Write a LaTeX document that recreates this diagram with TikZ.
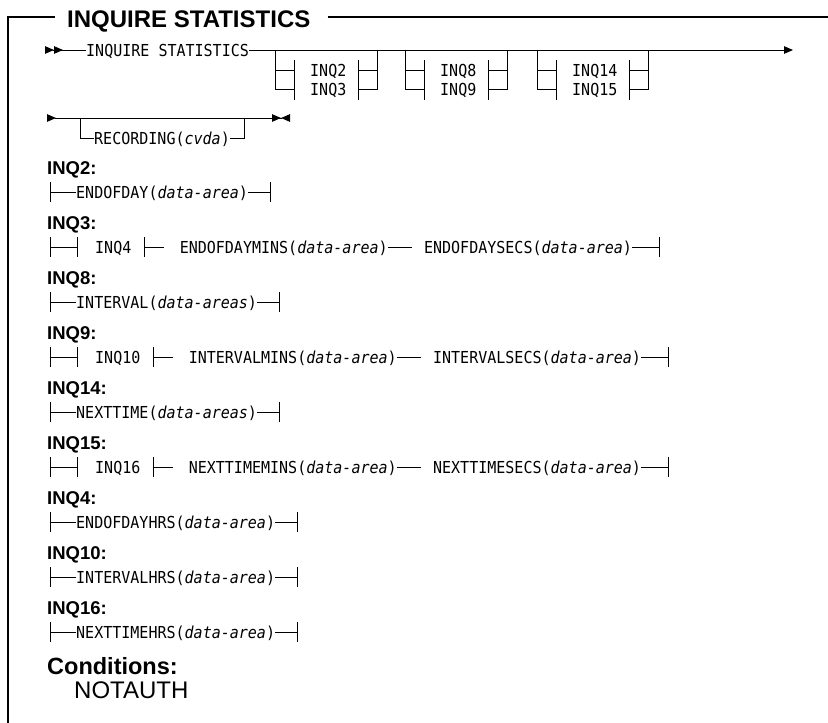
\documentclass[tikz,border=0pt]{standalone}
\usepackage{fontspec}
\setmainfont{Liberation Sans}
\setsansfont{Liberation Sans}
\setmonofont[FakeStretch=0.91]{DejaVu Sans Mono}
\usetikzlibrary{arrows.meta,calc,positioning}
\newcommand{\synfont}{\ttfamily\fontsize{16.5}{19}\selectfont}
\newcommand{\headfont}{\sffamily\bfseries\fontsize{18.5}{21}\selectfont}
\newcommand{\darea}{\textit{data-area}}
\tikzset{
  rail/.style={line width=0.9pt},
  frame/.style={line width=1.4pt},
  syn/.style={font=\synfont, inner sep=0pt, anchor=west, text height=12pt, text depth=0pt},
  head/.style={font=\headfont, inner sep=0pt, anchor=base west},
  bighead/.style={font=\sffamily\bfseries\fontsize{23.5}{27}\selectfont, inner sep=0pt, anchor=base west,
                  text height=17pt, text depth=0pt},
}
\newcommand{\tick}[1]{\draw[rail] ([yshift=10pt]#1) -- ([yshift=-10pt]#1);}
% optional choice hanging below the main line
\newcommand{\grp}[4]{%
  \node[syn] (#1a) at (#2+35,70) {#3};
  \node[syn] (#1b) at (#2+35,89) {#4};
  \draw[rail] (#2,50) -- (#2,89) -- (#2+19,89);
  \draw[rail] (#2,70) -- (#2+19,70);
  \draw[rail] (#2+19,60) -- (#2+19,100);
  \coordinate (#1r) at ($(#1a.east)+(12,0)$);
  \draw[rail] (#1r |- 0,60) -- (#1r |- 0,100);
  \draw[rail] (#1r |- 0,70) -- ++(19,0);
  \draw[rail] (#1r |- 0,89) -- ++(19,0) -- ++(0,-39);}
% fragment with one keyword
\newcommand{\simple}[4]{%
  \node[head] (#1h) at (47,#2-18) {#3};
  \coordinate (#1s) at (50,#2);
  \node[syn, right=26pt of #1s] (#1t) {#4};
  \coordinate[right=22pt of #1t] (#1e);
  \draw[rail] (#1s) -- (#1t.west) (#1t.east) -- (#1e);
  \tick{#1s}\tick{#1e}}
% fragment: reference, then two keywords
\newcommand{\compound}[6]{%
  \node[head] (#1h) at (47,#2-18) {#3};
  \coordinate (#1s) at (50,#2);
  \coordinate[right=27pt of #1s] (#1k);
  \node[syn, right=18pt of #1k] (#1r) {#4};
  \coordinate[right=13pt of #1r] (#1j);
  \node[syn, right=35pt of #1j] (#1m) {#5};
  \node[syn, right=36pt of #1m] (#1x) {#6};
  \coordinate[right=27pt of #1x] (#1e);
  \draw[rail] (#1s) -- (#1k) (#1j) -- ++(19,0) (#1m.east) -- ++(24,0) (#1x.east) -- (#1e);
  \tick{#1s}\tick{#1k}\tick{#1j}\tick{#1e}}

\begin{document}
\begin{tikzpicture}[x=1pt,y=-1pt,>={Triangle[length=9pt,width=7.5pt]}]
  \useasboundingbox (0,0) rectangle (828,723);
  % frame and title
  \node[bighead, font=\sffamily\bfseries\fontsize{24}{28}\selectfont] (title) at (67,27) {INQUIRE STATISTICS};
  \coordinate (fr) at (8,17);
  \draw[frame] ([xshift=-12pt]title.west |- fr) -- (fr) -- (8,724);
  \draw[frame] ([xshift=17pt]title.east |- fr) -- (829,17);

  % main line
  \coordinate (m0) at (45,50);
  \coordinate (m1) at (793,50);
  \node[syn] (cmd) at (86,50) {INQUIRE STATISTICS};
  \draw[rail,>>-] (m0) -- (cmd.west);
  \draw[rail,->] (cmd.east) -- (m1);
  \grp{g1}{275}{INQ2}{INQ3}
  \grp{g2}{405}{INQ8}{INQ9}
  \grp{g3}{537}{INQ14}{INQ15}

  % continuation line
  \coordinate (r0) at (47,118);
  \coordinate (r1) at (290,118);
  \draw[rail,>-><] (r0) -- (r1);
  \node[syn] (rec) at (94,138) {RECORDING(\textit{cvda})};
  \draw[rail] (80,118) |- (rec.west);
  \draw[rail] (rec.east) -- ++(14,0) coordinate (rc) -- (rc |- r0);

  % fragments
  \simple{q2}{192}{INQ2:}{ENDOFDAY(\darea)}
  \compound{q3}{247}{INQ3:}{INQ4}{ENDOFDAYMINS(\darea)}{ENDOFDAYSECS(\darea)}
  \simple{q8}{302}{INQ8:}{INTERVAL(\textit{data-areas})}
  \compound{q9}{357}{INQ9:}{INQ10}{INTERVALMINS(\darea)}{INTERVALSECS(\darea)}
  \simple{q14}{412}{INQ14:}{NEXTTIME(\textit{data-areas})}
  \compound{q15}{467}{INQ15:}{INQ16}{NEXTTIMEMINS(\darea)}{NEXTTIMESECS(\darea)}
  \simple{q4}{522}{INQ4:}{ENDOFDAYHRS(\darea)}
  \simple{q10}{577}{INQ10:}{INTERVALHRS(\darea)}
  \simple{q16}{632}{INQ16:}{NEXTTIMEHRS(\darea)}

  % conditions
  \node[bighead] (cond) at (47,674) {Conditions:};
  \node[bighead, font=\sffamily\fontsize{24}{28}\selectfont] (na) at (74,698) {NOTAUTH};
\end{tikzpicture}
\end{document}
